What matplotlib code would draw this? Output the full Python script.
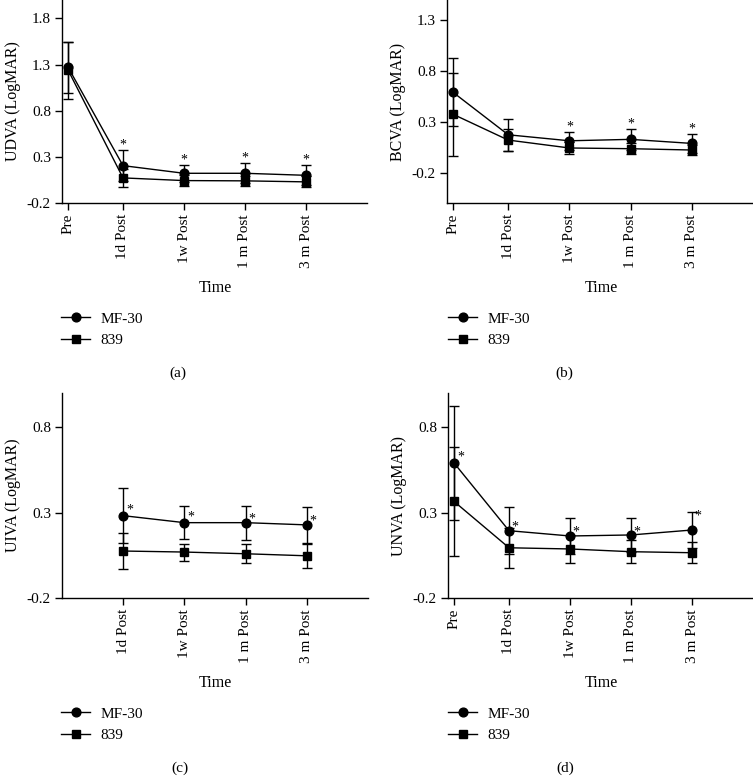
import matplotlib
matplotlib.use("Agg")
import matplotlib.pyplot as plt
from matplotlib.lines import Line2D

plt.rcParams['font.family'] = ['Liberation Serif', 'DejaVu Serif']

# ---------------- data ----------------
categories = ['Pre', '1d Post', '1w Post', '1 m Post', '3 m Post']
categories_post = ['1d Post', '1w Post', '1 m Post', '3 m Post']

# (a) UDVA
udva_mf30 = [1.27, 0.205, 0.122, 0.122, 0.100]
udva_mf30_sd = [0.28, 0.166, 0.094, 0.108, 0.110]
udva_839 = [1.24, 0.072, 0.043, 0.040, 0.029]
udva_839_sd = [0.31, 0.100, 0.060, 0.058, 0.060]
udva_star = [False, True, True, True, True]

# (b) BCVA
bcva_mf30 = [0.59, 0.172, 0.113, 0.127, 0.087]
bcva_mf30_sd = [0.336, 0.155, 0.090, 0.100, 0.095]
bcva_839 = [0.374, 0.120, 0.042, 0.035, 0.022]
bcva_839_sd = [0.41, 0.110, 0.060, 0.055, 0.050]
bcva_star = [False, False, True, True, True]

# (c) UIVA (no pre-op value)
uiva_mf30 = [0.282, 0.241, 0.241, 0.228]
uiva_mf30_sd = [0.159, 0.098, 0.100, 0.105]
uiva_839 = [0.075, 0.069, 0.059, 0.047]
uiva_839_sd = [0.108, 0.050, 0.055, 0.072]
uiva_star_y = [0.339, 0.300, 0.286, 0.277]

# (d) UNVA
unva_mf30 = [0.59, 0.194, 0.163, 0.169, 0.198]
unva_mf30_sd = [0.333, 0.138, 0.106, 0.100, 0.106]
unva_839 = [0.365, 0.094, 0.087, 0.071, 0.065]
unva_839_sd = [0.32, 0.118, 0.081, 0.067, 0.063]
unva_star_y = [0.649, 0.241, 0.212, 0.212, 0.306]

x_full = [0.1, 1, 2, 3, 4]
x_post = [1, 2, 3, 4]

W, H = 753, 777
fig = plt.figure(figsize=(W / 100, H / 100), dpi=100)


def px_axes(left, right, top, bottom):
    return fig.add_axes([left / W, 1 - bottom / H, (right - left) / W, (bottom - top) / H])


TICK_FS = 11
LAB_FS = 11.5
MS_C = 6.3
MS_S = 5.8


def style(ax, ylim, yticks, xs, xlabels, ylabel):
    ax.set_xlim(0, 5)
    ax.set_ylim(*ylim)
    for s in ['top', 'right']:
        ax.spines[s].set_visible(False)
    for s in ['left', 'bottom']:
        ax.spines[s].set_linewidth(1.0)
    ax.set_yticks(yticks)
    ax.set_yticklabels(['%.1f' % v for v in yticks], fontsize=TICK_FS)
    ax.set_xticks(xs)
    ax.set_xticklabels(xlabels, rotation=90, fontsize=TICK_FS)
    ax.tick_params(direction='out', length=5, width=1.0, pad=3)
    ax.set_ylabel(ylabel, fontsize=LAB_FS, labelpad=4)


def draw(ax, xs, m1, s1, m2, s2):
    ax.errorbar(xs, m2, yerr=s2, fmt='-s', color='black', ms=MS_S, lw=1.0,
                elinewidth=1.0, capsize=3.5, capthick=1.0, zorder=3)
    ax.errorbar(xs, m1, yerr=s1, fmt='-o', color='black', ms=MS_C, lw=1.0,
                elinewidth=1.0, capsize=3.5, capthick=1.0, zorder=4)


def legend(x_px, y_px):
    handles = [Line2D([], [], color='black', marker='o', ms=MS_C, lw=1.0),
               Line2D([], [], color='black', marker='s', ms=MS_S, lw=1.0)]
    fig.legend(handles, ['MF-30', '839'], loc='upper left',
               bbox_to_anchor=(x_px / W, 1 - y_px / H), frameon=False,
               fontsize=11, handlelength=1.9, handletextpad=0.7,
               labelspacing=0.5, borderaxespad=0, borderpad=0)


# (a)
axa = px_axes(62, 367, 0, 203)
style(axa, (-0.2, 2.0), [-0.2, 0.3, 0.8, 1.3, 1.8], x_full, categories, 'UDVA (LogMAR)')
draw(axa, x_full, udva_mf30, udva_mf30_sd, udva_839, udva_839_sd)
for xi, m, s, st in zip(x_full, udva_mf30, udva_mf30_sd, udva_star):
    if st:
        axa.annotate('*', (xi, m + s), xytext=(0, 1), textcoords='offset points',
                     ha='center', va='baseline', fontsize=10)

# (b)
axb = px_axes(447, 753, 0, 203)
style(axb, (-0.5, 1.5), [-0.2, 0.3, 0.8, 1.3], x_full, categories, 'BCVA (LogMAR)')
draw(axb, x_full, bcva_mf30, bcva_mf30_sd, bcva_839, bcva_839_sd)
for xi, m, s, st in zip(x_full, bcva_mf30, bcva_mf30_sd, bcva_star):
    if st:
        axb.annotate('*', (xi, m + s), xytext=(0, 1), textcoords='offset points',
                     ha='center', va='baseline', fontsize=10)

# (c)
axc = px_axes(62, 368, 393, 598)
style(axc, (-0.2, 1.0), [-0.2, 0.3, 0.8], x_post, categories_post, 'UIVA (LogMAR)')
draw(axc, x_post, uiva_mf30, uiva_mf30_sd, uiva_839, uiva_839_sd)
for xi, sy in zip(x_post, uiva_star_y):
    axc.annotate('*', (xi, sy), xytext=(4.5, -5.5), textcoords='offset points',
                 ha='center', va='baseline', fontsize=10)

# (d)
axd = px_axes(448, 753, 393, 598)
style(axd, (-0.2, 1.0), [-0.2, 0.3, 0.8], x_full, categories, 'UNVA (LogMAR)')
draw(axd, x_full, unva_mf30, unva_mf30_sd, unva_839, unva_839_sd)
for xi, sy in zip(x_full, unva_star_y):
    axd.annotate('*', (xi, sy), xytext=(4.5, -5.5), textcoords='offset points',
                 ha='center', va='baseline', fontsize=10)

# Time labels
fig.text(215 / W, 1 - 288 / H, 'Time', ha='center', va='center', fontsize=LAB_FS)
fig.text(601 / W, 1 - 288 / H, 'Time', ha='center', va='center', fontsize=LAB_FS)
fig.text(215 / W, 1 - 683 / H, 'Time', ha='center', va='center', fontsize=LAB_FS)
fig.text(601 / W, 1 - 683 / H, 'Time', ha='center', va='center', fontsize=LAB_FS)

# legends
legend(61, 312)
legend(448, 312)
legend(61, 707)
legend(448, 707)

# captions
fig.text(178 / W, 1 - 373 / H, '(a)', ha='center', va='center', fontsize=11)
fig.text(564 / W, 1 - 373 / H, '(b)', ha='center', va='center', fontsize=11)
fig.text(180 / W, 1 - 768 / H, '(c)', ha='center', va='center', fontsize=11)
fig.text(565 / W, 1 - 768 / H, '(d)', ha='center', va='center', fontsize=11)

fig.savefig('out.png', dpi=100)
